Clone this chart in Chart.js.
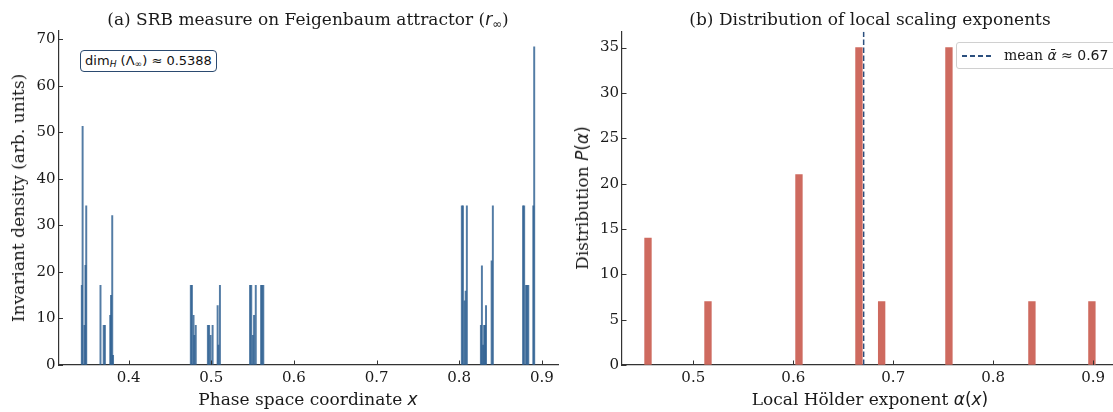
<!DOCTYPE html>
<html>
<head>
<meta charset="utf-8">
<script src="https://cdn.jsdelivr.net/npm/chart.js@4.4.1/dist/chart.umd.min.js"></script>
<style>
  html, body { margin: 0; padding: 0; background: #fff; overflow: hidden; }
  #fig { position: relative; width: 1113px; height: 412px; overflow: hidden; }
  canvas { position: absolute; top: 0; }
  .txt { position: absolute; font-family: 'DejaVu Serif', serif; color: #1a1a1a; white-space: nowrap; line-height: 20px; }
  .ttl { font-size: 17px; transform: translateX(-50%); }
  .lab { font-size: 17px; transform: translate(-50%, -50%); }
  .ylab { font-size: 17px; transform: translate(-50%, -50%) rotate(-90deg); }
  .m { font-family: 'DejaVu Sans', sans-serif; font-style: italic; }
  .s { font-family: 'DejaVu Sans', sans-serif; }
  sub { font-size: 70%; vertical-align: -0.25em; line-height: 0; }
  #dimbox { position: absolute; left: 80px; top: 50px; width: 135px; height: 20px; border: 1.2px solid #2b4a70;
            border-radius: 4px; background: #fff; font-family: 'DejaVu Sans', sans-serif; font-size: 13px;
            line-height: 20px; text-align: center; color: #111; }
  #legend { position: absolute; left: 956px; top: 42px; width: 170px; height: 25px; border: 1px solid #d0d0d0;
            border-radius: 3px; background: rgba(255,255,255,0.85); }
  #legend .dash { position: absolute; left: 5px; top: 12px; width: 30px; height: 1.6px;
            background: repeating-linear-gradient(to right, #2b4f7e 0 5.5px, transparent 5.5px 8px); }
  #legend .t { position: absolute; left: 47px; top: 2px; font-family: 'DejaVu Serif', serif; font-size: 14px; line-height: 20px; color: #1a1a1a; white-space: nowrap; }
</style>
</head>
<body>
<div id="fig">
  <canvas id="chartA" width="560" height="412" style="left:0px"></canvas>
  <canvas id="chartB" width="560" height="412" style="left:560px"></canvas>

  <div class="txt ttl" style="left:308px; top:9px">(a) SRB measure on Feigenbaum attractor (<span class="m">r</span><sub class="s">∞</sub>)</div>
  <div class="txt ttl" style="left:870px; top:9px">(b) Distribution of local scaling exponents</div>
  <div class="txt lab" style="left:308px; top:399px">Phase space coordinate <span class="m">x</span></div>
  <div class="txt lab" style="left:870px; top:399px">Local Hölder exponent <span class="m">α</span><span class="s">(</span><span class="m">x</span><span class="s">)</span></div>
  <div class="txt ylab" style="left:18px; top:198px">Invariant density (arb. units)</div>
  <div class="txt ylab" style="left:582px; top:198px">Distribution <span class="m">P</span><span class="s">(</span><span class="m">α</span><span class="s">)</span></div>

  <div id="dimbox">dim<sub><i>H</i></sub> (Λ<sub>∞</sub>) ≈ 0.5388</div>
  <div id="legend"><div class="dash"></div><div class="t">mean <span class="m">ᾱ</span><span class="s"> ≈ 0.67</span></div></div>
</div>

<script>
// panel (a): histogram of the SRB measure (bin centres and densities)
const phaseX = [0.34341, 0.34438, 0.34657, 0.34778, 0.34876,
  0.36600, 0.36988, 0.37134, 0.37778, 0.37875, 0.38021, 0.38118,
  0.47529, 0.47662, 0.47857, 0.47954, 0.48124,
  0.49593, 0.49739, 0.49921, 0.50164,
  0.50771, 0.50868, 0.51050,
  0.54693, 0.54839, 0.55021, 0.55179, 0.55386,
  0.56029, 0.56163, 0.56297,
  0.80316, 0.80449, 0.80644, 0.80777, 0.80923,
  0.82623, 0.82744, 0.82890, 0.83012, 0.83133, 0.83242, 0.83923, 0.84068,
  0.87723, 0.87857, 0.88087, 0.88221, 0.88355, 0.88962, 0.89071];
const phaseDensity = [17.1, 51.3, 8.55, 21.4, 34.2,
  17.1, 8.55, 8.55, 10.7, 15.0, 32.1, 2.1,
  17.1, 17.1, 10.7, 6.4, 8.55,
  8.55, 8.55, 6.4, 8.55,
  12.8, 4.3, 17.1,
  17.1, 17.1, 6.4, 10.7, 17.1,
  17.1, 17.1, 17.1,
  34.2, 34.2, 13.8, 15.9, 34.2,
  8.55, 21.3, 4.3, 8.55, 8.55, 12.8, 22.4, 34.2,
  34.2, 34.2, 17.1, 17.1, 17.1, 34.2, 68.4];

// panel (b): distribution of local Hölder exponents
const alphaBins = [0.4547, 0.5147, 0.6057, 0.6657, 0.6884, 0.7557, 0.8387, 0.8987];
const alphaCounts = [14, 7, 21, 35, 7, 35, 7, 7];
const meanAlpha = 0.6704;

// tick values
const xTicksA = [0.4, 0.5, 0.6, 0.7, 0.8, 0.9];
const yTicksA = [0, 10, 20, 30, 40, 50, 60, 70];
const xTicksB = [0.5, 0.6, 0.7, 0.8, 0.9];
const yTicksB = [0, 5, 10, 15, 20, 25, 30, 35];

const tickFont = { family: 'DejaVu Serif', size: 15 };
const ink = '#1a1a1a';

// matplotlib style ticks pointing into the axes
const inwardTicks = {
  id: 'inwardTicks',
  afterDatasetsDraw(chart) {
    const { ctx, chartArea, scales } = chart;
    ctx.save();
    ctx.strokeStyle = '#333';
    ctx.lineWidth = 1;
    ctx.beginPath();
    scales.x.ticks.forEach(t => {
      const px = Math.round(scales.x.getPixelForValue(t.value)) + 0.5;
      ctx.moveTo(px, chartArea.bottom);
      ctx.lineTo(px, chartArea.bottom - 4.5);
    });
    scales.y.ticks.forEach(t => {
      const py = Math.round(scales.y.getPixelForValue(t.value)) + 0.5;
      ctx.moveTo(chartArea.left, py);
      ctx.lineTo(chartArea.left + 4.5, py);
    });
    ctx.stroke();
    ctx.restore();
  }
};

function axes(xmin, xmax, ymax, xt, yt, yw) {
  return {
    x: {
      type: 'linear', min: xmin, max: xmax, offset: false,
      afterBuildTicks: s => { s.ticks = xt.map(v => ({ value: v })); },
      afterFit: s => { s.height = 47; },
      grid: { display: true, drawOnChartArea: false, drawTicks: false, offset: false },
      border: { display: true, color: '#333', width: 1.2 },
      ticks: { font: tickFont, color: ink, padding: 4, maxRotation: 0, callback: v => v.toFixed(1) }
    },
    y: {
      min: 0, max: ymax,
      afterBuildTicks: s => { s.ticks = yt.map(v => ({ value: v })); },
      afterFit: s => { s.width = yw; },
      grid: { display: true, drawOnChartArea: false, drawTicks: false },
      border: { display: true, color: '#333', width: 1.2 },
      ticks: { font: tickFont, color: ink, padding: 3 }
    }
  };
}

new Chart(document.getElementById('chartA'), {
  type: 'bar',
  data: {
    datasets: [{
      data: phaseX.map((x, i) => ({ x: x, y: phaseDensity[i] })),
      backgroundColor: 'rgba(45,95,145,0.82)',
      borderWidth: 0,
      barThickness: 1.3
    }]
  },
  options: {
    responsive: false, animation: false, devicePixelRatio: 1,
    layout: { padding: { left: 0, right: 2, top: 31, bottom: 0 } },
    plugins: { legend: { display: false }, tooltip: { enabled: false } },
    scales: axes(0.3152, 0.9195, 71.8, xTicksA, yTicksA, 58.5)
  },
  plugins: [inwardTicks]
});

new Chart(document.getElementById('chartB'), {
  type: 'bar',
  data: {
    datasets: [{
      type: 'bar',
      data: alphaBins.map((x, i) => ({ x: x, y: alphaCounts[i] })),
      backgroundColor: 'rgb(206,106,95)',
      borderWidth: 0,
      barThickness: 6.7
    }, {
      type: 'line',
      data: [{ x: meanAlpha, y: 0 }, { x: meanAlpha, y: 36.75 }],
      borderColor: '#2b4f7e',
      borderWidth: 1.5,
      borderDash: [5.5, 2.5],
      pointRadius: 0,
      fill: false
    }]
  },
  options: {
    responsive: false, animation: false, devicePixelRatio: 1,
    layout: { padding: { left: 0, right: 2, top: 31.7, bottom: 0 } },
    plugins: { legend: { display: false }, tooltip: { enabled: false } },
    scales: axes(0.4287, 0.9248, 36.75, xTicksB, yTicksB, 62)
  },
  plugins: [inwardTicks]
});
</script>
</body>
</html>
